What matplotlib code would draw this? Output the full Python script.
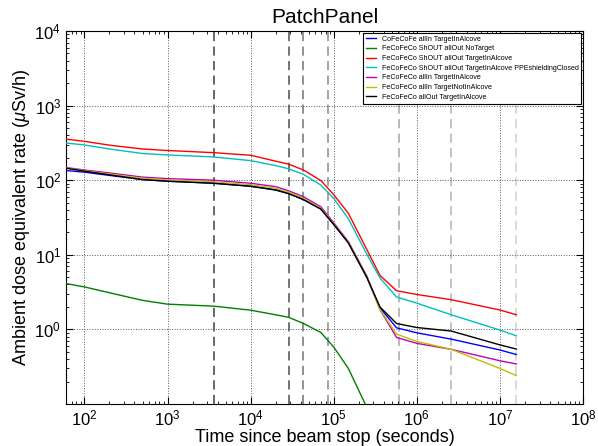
import numpy as np
import matplotlib
matplotlib.use("Agg")
import matplotlib.pyplot as plt

plt.rcParams['font.family'] = ['Liberation Sans', 'DejaVu Sans']
plt.rcParams['mathtext.fontset'] = 'custom'
plt.rcParams['mathtext.rm'] = 'Liberation Sans'
plt.rcParams['mathtext.it'] = 'Liberation Sans:italic'
plt.rcParams['xtick.direction'] = 'in'
plt.rcParams['ytick.direction'] = 'in'

# cooling times (s)
times = [60, 100, 200, 500, 1000, 3600, 1e4, 2e4, 28800, 43200, 7e4, 1e5,
         1.5e5, 2.5e5, 3.6e5, 5.7e5, 1e6, 2.6e6, 1e7, 1.58e7]

# dose rates (uSv/h)
cofe_allin_alcove = [135, 128, 116, 102, 97, 91, 83, 74, 66, 55, 41, 25.5,
                     14.5, 5.0, 1.95, 1.05, 0.90, 0.74, 0.53, 0.46]
shout_allout_notarget = [4.12, 3.71, 3.1, 2.45, 2.18, 2.05, 1.81, 1.57, 1.45,
                         1.2, 0.91, 0.58, 0.30, 0.09, 0.03]
shout_allout_alcove = [355, 332, 295, 262, 250, 234, 216, 180, 164, 137, 99,
                       64, 36, 11.8, 5.3, 3.3, 2.94, 2.5, 1.82, 1.57]
shout_allout_alcove_ppe = [315, 297, 262, 228, 218, 205, 183, 157, 142, 120,
                           86, 57, 30.5, 10.2, 4.9, 2.72, 2.25, 1.57, 0.98, 0.82]
feco_allin_alcove = [148, 137, 125, 110, 105, 100, 91, 82, 72, 60, 44, 27,
                     15, 5.2, 1.85, 0.78, 0.65, 0.54, 0.38, 0.344]
feco_allin_notalcove = [146, 134, 121, 106, 101, 95, 87, 78, 69, 57, 42, 26,
                        14.7, 5.1, 1.85, 0.865, 0.69, 0.54, 0.30, 0.24]
feco_allout_alcove = [145, 132, 118, 102, 97, 91, 83, 74, 66, 55, 41, 25.5,
                      14.5, 5.0, 2.0, 1.2, 1.06, 0.95, 0.62, 0.545]

series = [
    ("CoFeCoFe allIn TargetInAlcove", cofe_allin_alcove, (0, 0, 1)),
    ("FeCoFeCo ShOUT allOut NoTarget", shout_allout_notarget, (0, 0.5, 0)),
    ("FeCoFeCo ShOUT allOut TargetInAlcove", shout_allout_alcove, (1, 0, 0)),
    ("FeCoFeCo ShOUT allOut TargetInAlcove PPEshieldingClosed",
     shout_allout_alcove_ppe, (0, 0.75, 0.75)),
    ("FeCoFeCo allIn TargetInAlcove", feco_allin_alcove, (0.75, 0, 0.75)),
    ("FeCoFeCo allIn TargetNotInAlcove", feco_allin_notalcove, (0.75, 0.75, 0)),
    ("FeCoFeCo allOut TargetInAlcove", feco_allout_alcove, (0, 0, 0)),
]

# marker times: 1h, 8h, 12h, 1d, 1w, 30d, 6 months
cooling_marks = [3600, 28800, 43200, 86400, 604800, 2592000, 15768000]
mark_grays = ['0.25', '0.3', '0.45', '0.55', '0.65', '0.7', '0.82']

fig = plt.figure(figsize=(5.98, 4.46), dpi=100)
ax = fig.add_axes([66 / 598, 1 - 404 / 446, (583 - 66) / 598, (404 - 31) / 446])

for t, c in zip(cooling_marks, mark_grays):
    ax.axvline(t, color=c, linestyle=(0, (6, 3.5)), linewidth=1.1, zorder=1)

for label, vals, color in series:
    ax.plot(times[:len(vals)], vals, color=color, linewidth=1.0, label=label, zorder=3)

ax.set_xscale('log')
ax.set_yscale('log')
ax.set_xticks([1e2, 1e3, 1e4, 1e5, 1e6, 1e7, 1e8])
ax.set_yticks([1, 10, 100, 1000, 10000])
ax.set_xlim(60, 1e8)
ax.set_ylim(0.1, 1e4)
ax.grid(True, which='major', color='0.35', linestyle=':', linewidth=0.7)
ax.tick_params(which='both', top=True, right=True, labelsize=12)
ax.tick_params(which='major', length=5)
ax.tick_params(which='minor', length=2.5)

ax.set_title("PatchPanel", fontsize=15)
ax.set_xlabel("Time since beam stop (seconds)", fontsize=13, labelpad=0)
ax.set_ylabel(r"Ambient dose equivalent rate ($\mu$Sv/h)", fontsize=13, labelpad=2)

leg = ax.legend(loc='upper right', fontsize=5.1, handlelength=1.4,
                fancybox=False, framealpha=1, edgecolor='k',
                borderaxespad=0.25, labelspacing=0.38)
leg.get_frame().set_linewidth(0.8)

plt.savefig("out.png", dpi=100)
